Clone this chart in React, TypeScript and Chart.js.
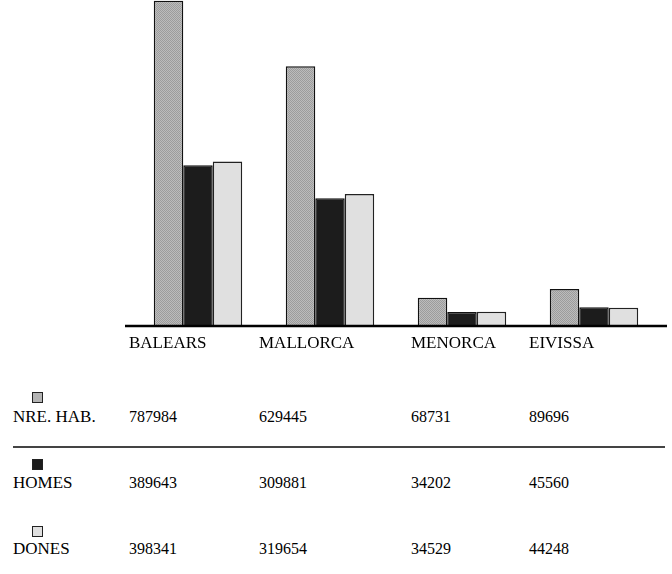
import React, { useEffect, useRef } from "react";
import { Chart, registerables } from "chart.js";

Chart.register(...registerables);

const categories = ["BALEARS", "MALLORCA", "MENORCA", "EIVISSA"];
const seriesNames = ["NRE. HAB.", "HOMES", "DONES"];
const totalValues = [787984, 629445, 68731, 89696];
const homesValues = [389643, 309881, 34202, 45560];
const donesValues = [398341, 319654, 34529, 44248];

const FONT = "'Liberation Serif', 'Times New Roman', serif";

// table column left edges (layout), shared by category labels and table cells
const colCols = [129, 259, 411, 529];
const rowBaselines = [422, 488, 554];
const squareTops = [392, 459, 526];
const squareColors = ["#b4b4b4", "#1c1c1c", "#e0e0e0"];

function makePattern(): CanvasPattern | string {
  const c = document.createElement("canvas");
  c.width = 2;
  c.height = 2;
  const g = c.getContext("2d");
  if (!g) return "#acacac";
  g.fillStyle = "#bcbcbc";
  g.fillRect(0, 0, 2, 2);
  g.fillStyle = "#9c9c9c";
  g.fillRect(0, 0, 1, 1);
  g.fillRect(1, 1, 1, 1);
  const p = g.createPattern(c, "repeat");
  return p || "#acacac";
}

const baselinePlugin = {
  id: "baselineExt",
  afterDatasetsDraw(chart: any) {
    const { ctx, chartArea, scales } = chart;
    const y = scales.y.getPixelForValue(0);
    ctx.save();
    ctx.strokeStyle = "#000";
    ctx.lineWidth = 2.5;
    ctx.beginPath();
    ctx.moveTo(chartArea.left - 7, y);
    ctx.lineTo(chartArea.right + 7, y);
    ctx.stroke();
    // category labels, left-aligned on the table columns below
    ctx.fillStyle = "#000";
    ctx.font = `17px ${FONT}`;
    ctx.textAlign = "left";
    ctx.textBaseline = "alphabetic";
    const labels: string[] = chart.data.labels;
    labels.forEach((lab, i) => {
      const x = colCols[i] !== undefined ? colCols[i] : scales.x.getPixelForTick(i) - 69;
      ctx.fillText(lab, x, y + 22);
    });
    ctx.restore();
  },
};

export default function App() {
  const ref = useRef<HTMLCanvasElement | null>(null);

  useEffect(() => {
    document.body.style.margin = "0";
    const canvas = ref.current;
    if (!canvas) return;
    const chart = new Chart(canvas, {
      type: "bar",
      data: {
        labels: categories,
        datasets: [
          {
            label: seriesNames[0],
            data: totalValues,
            backgroundColor: makePattern() as any,
            borderColor: "#111",
            borderWidth: 1.5,
          },
          {
            label: seriesNames[1],
            data: homesValues,
            backgroundColor: "#1c1c1c",
            borderColor: "#111",
            borderWidth: 1.5,
          },
          {
            label: seriesNames[2],
            data: donesValues,
            backgroundColor: "#e0e0e0",
            borderColor: "#222",
            borderWidth: 1.5,
          },
        ],
      },
      options: {
        animation: false,
        responsive: false,
        maintainAspectRatio: false,
        layout: { padding: { left: 132, right: 12, top: 0, bottom: 36 } },
        plugins: { legend: { display: false }, tooltip: { enabled: false } },
        datasets: { bar: { categoryPercentage: 0.67, barPercentage: 1 } } as any,
        scales: {
          x: {
            grid: { display: false, drawTicks: false },
            border: { display: false },
            ticks: { display: false },
          },
          y: {
            display: false,
            min: 0,
            max: 790000,
          },
        },
      },
      plugins: [baselinePlugin],
    });
    return () => chart.destroy();
  }, []);

  const rows = [totalValues, homesValues, donesValues];

  return (
    <div style={{ position: "relative", width: 672, height: 574, background: "#fff", fontFamily: FONT, color: "#000" }}>
      <canvas ref={ref} width={672} height={362} style={{ position: "absolute", left: 0, top: 0, width: 672, height: 362 }} />
      {seriesNames.map((name, r) => (
        <React.Fragment key={name}>
          <div
            style={{
              position: "absolute",
              left: 32,
              top: squareTops[r],
              width: 11,
              height: 11,
              boxSizing: "border-box",
              border: "1px solid #222",
              background: squareColors[r],
            }}
          />
          <div
            style={{
              position: "absolute",
              left: 13,
              top: rowBaselines[r] - 14.2,
              fontSize: 17,
              lineHeight: "17px",
              whiteSpace: "nowrap",
            }}
          >
            {name}
          </div>
          {rows[r].map((v, c) => (
            <div
              key={c}
              style={{
                position: "absolute",
                left: colCols[c],
                top: rowBaselines[r] - 13.4,
                fontSize: 16,
                lineHeight: "16px",
                whiteSpace: "nowrap",
              }}
            >
              {v}
            </div>
          ))}
        </React.Fragment>
      ))}
      <div style={{ position: "absolute", left: 13, top: 446, width: 652, height: 2, background: "#444" }} />
    </div>
  );
}
